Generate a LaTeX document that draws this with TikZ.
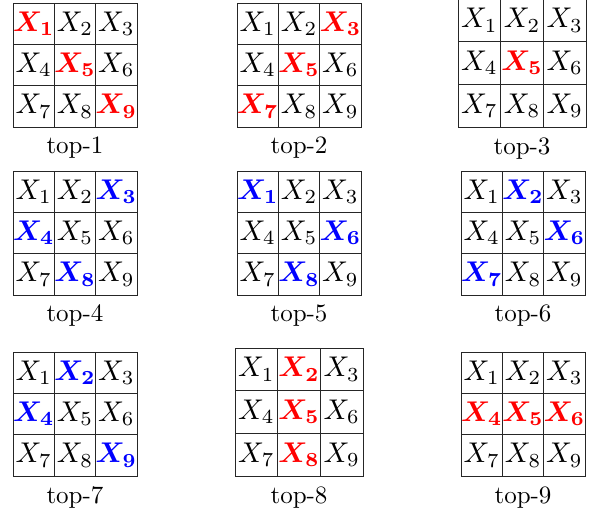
\RequirePackage{fix-cm}
\documentclass[tikz,border=0pt]{standalone}
\usepackage[no-math]{fontspec}
\usetikzlibrary{positioning}

\begin{document}
\begin{tikzpicture}[
    x=0.4pt, y=-0.4pt,
    cell/.style={
      draw=black!85, line width=0.35pt, inner sep=0pt,
      minimum size=0.4*\cs pt, font=\fontsize{11.4}{13}\selectfont
    },
    plainx/.style={},
    redx/.style={text=red, font=\fontsize{11.4}{13}\selectfont\boldmath},
    bluex/.style={text=blue, font=\fontsize{11.4}{13}\selectfont\boldmath},
    toplabel/.style={anchor=base, font=\fontsize{10}{12}\selectfont}
  ]
  \useasboundingbox (0,0) rectangle (590,512);

  % grid number / left / top / cell size / marked cells
  \foreach \g/\gx/\gy/\cs/\cols in {
      1/13/3/41.33/{redx,plainx,plainx,plainx,redx,plainx,plainx,plainx,redx},
      2/237/3/41.33/{plainx,plainx,redx,plainx,redx,plainx,redx,plainx,plainx},
      3/458/-1/42.67/{plainx,plainx,plainx,plainx,redx,plainx,plainx,plainx,plainx},
      4/13/171/41.33/{plainx,plainx,bluex,bluex,plainx,plainx,plainx,bluex,plainx},
      5/237/171/41.33/{bluex,plainx,plainx,plainx,plainx,bluex,plainx,bluex,plainx},
      6/461/171/41.33/{plainx,bluex,plainx,plainx,plainx,bluex,bluex,plainx,plainx},
      7/13/352/41.33/{plainx,bluex,plainx,bluex,plainx,plainx,plainx,plainx,bluex},
      8/235/348/42.67/{plainx,redx,plainx,plainx,redx,plainx,plainx,redx,plainx},
      9/461/352/41.33/{plainx,plainx,plainx,redx,redx,redx,plainx,plainx,plainx}}
  {
    \foreach \c [count=\i] in \cols {
      \pgfmathtruncatemacro\col{mod(\i-1,3)}
      \pgfmathtruncatemacro\row{(\i-1)/3}
      \node[cell, \c] (t\g c\i) at ({\gx+(\col+0.5)*\cs}, {\gy+(\row+0.5)*\cs})
        {$X_{\i}$};
    }
    \node[toplabel] (lab\g) at ({\gx+1.5*\cs}, {\gy+3*\cs+27}) {top-\g};
  }
\end{tikzpicture}
\end{document}
